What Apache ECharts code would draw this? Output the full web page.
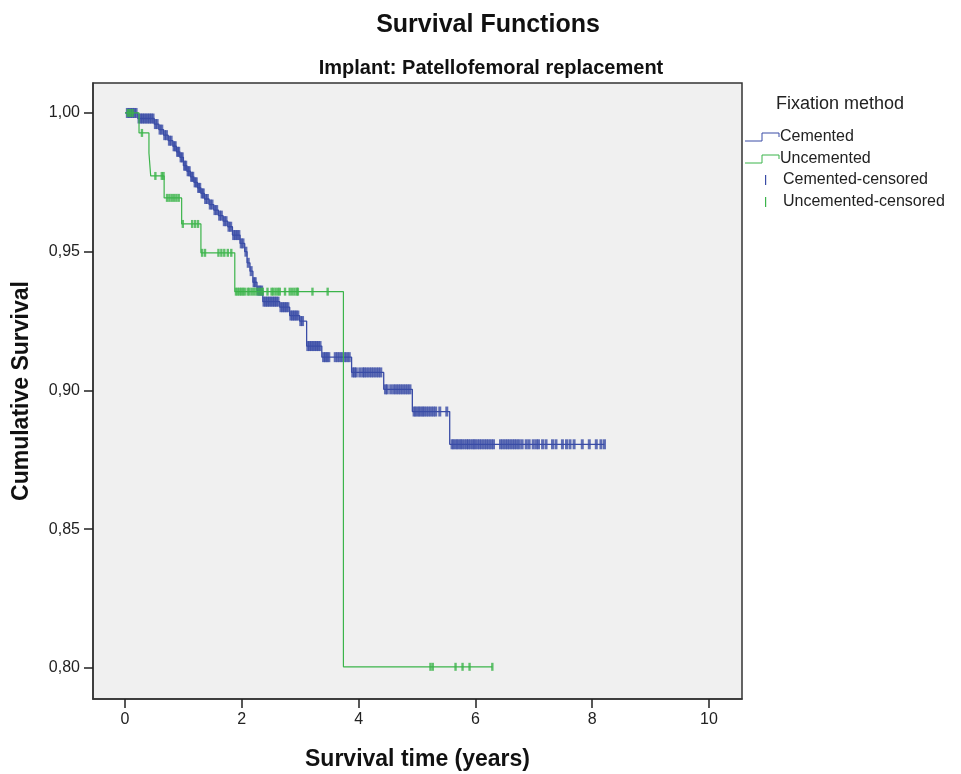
<!DOCTYPE html>
<html>
<head>
<meta charset="utf-8">
<title>Survival Functions</title>
<script src="https://cdn.jsdelivr.net/npm/echarts@6/dist/echarts.min.js"></script>
<style>
  html, body { margin: 0; padding: 0; background: #fff; }
  #chart { width: 961px; height: 774px; }
</style>
</head>
<body>
<div id="chart"></div>
<script>
// Kaplan-Meier steps (time in years, cumulative survival)
const cementedTimes = [0, 0.22, 0.50, 0.58, 0.66, 0.74, 0.82, 0.88, 0.94, 1.00, 1.06, 1.12, 1.18, 1.24, 1.30, 1.36,
  1.44, 1.52, 1.60, 1.68, 1.76, 1.84, 1.97, 2.05, 2.09, 2.14, 2.19, 2.26, 2.36, 2.65, 2.82, 2.99, 3.11, 3.37,
  3.88, 4.43, 4.92, 5.56, 8.21];
const cementedSurv = [1.000, 0.998, 0.996, 0.994, 0.992, 0.990, 0.988, 0.986, 0.984, 0.981, 0.979, 0.977, 0.975,
  0.973, 0.971, 0.969, 0.967, 0.965, 0.963, 0.961, 0.959, 0.956, 0.953, 0.950, 0.946, 0.943, 0.939, 0.936, 0.932,
  0.930, 0.927, 0.925, 0.916, 0.912, 0.9065, 0.9004, 0.8924, 0.8806, 0.8806];
const cementedCensored = [0.04, 0.07, 0.10, 0.13, 0.16, 0.19, 0.24, 0.27, 0.30, 0.33, 0.36, 0.39, 0.42, 0.45, 0.48,
  0.52, 0.55, 0.60, 0.63, 0.68, 0.71, 0.76, 0.79, 0.84, 0.86, 0.90, 0.92, 0.96, 0.98, 1.02, 1.04, 1.08, 1.10, 1.14,
  1.16, 1.20, 1.22, 1.26, 1.28, 1.32, 1.34, 1.38, 1.41, 1.46, 1.49, 1.54, 1.57, 1.62, 1.65, 1.70, 1.73, 1.78, 1.81,
  1.86, 1.89, 1.92, 1.95, 1.99, 2.02, 2.07, 2.11, 2.16, 2.21, 2.23, 2.28, 2.31, 2.34, 2.38, 2.41, 2.44, 2.47, 2.50,
  2.53, 2.56, 2.59, 2.62, 2.67, 2.70, 2.73, 2.76, 2.79, 2.84, 2.87, 2.90, 2.93, 2.96, 3.01, 3.04, 3.13, 3.16, 3.19,
  3.22, 3.25, 3.28, 3.31, 3.34, 3.40, 3.43, 3.46, 3.49, 3.60, 3.64, 3.68, 3.72, 3.76, 3.80, 3.84, 3.90, 3.93, 3.96,
  4.02, 4.07, 4.10, 4.14, 4.18, 4.22, 4.26, 4.30, 4.34, 4.38, 4.46, 4.49, 4.55, 4.60, 4.64, 4.68, 4.72, 4.76, 4.80,
  4.84, 4.88, 4.95, 4.98, 5.02, 5.05, 5.09, 5.12, 5.16, 5.20, 5.24, 5.28, 5.32, 5.39, 5.51, 5.60, 5.63, 5.67, 5.70,
  5.74, 5.77, 5.81, 5.85, 5.88, 5.92, 5.96, 5.99, 6.03, 6.07, 6.11, 6.15, 6.19, 6.23, 6.27, 6.31, 6.43, 6.47, 6.51,
  6.55, 6.59, 6.63, 6.67, 6.71, 6.75, 6.80, 6.87, 6.92, 6.99, 7.04, 7.08, 7.15, 7.21, 7.32, 7.38, 7.49, 7.56, 7.62,
  7.69, 7.83, 7.95, 8.07, 8.15, 8.21];

const uncementedTimes = [0, 0.24, 0.41, 0.44, 0.67, 0.97, 1.30, 1.88, 3.74, 6.29];
const uncementedSurv = [1.000, 0.9928, 0.9856, 0.9773, 0.9694, 0.960, 0.9496, 0.9356, 0.8004, 0.8004];
const uncementedCensored = [0.05, 0.09, 0.13, 0.29, 0.52, 0.63, 0.66, 0.72, 0.76, 0.80, 0.84, 0.88, 0.92, 0.99,
  1.15, 1.20, 1.25, 1.32, 1.37, 1.60, 1.65, 1.70, 1.76, 1.82, 1.90, 1.93, 1.96, 1.99, 2.02, 2.05, 2.10, 2.13, 2.17,
  2.21, 2.25, 2.29, 2.33, 2.36, 2.44, 2.51, 2.54, 2.58, 2.62, 2.65, 2.74, 2.82, 2.86, 2.90, 2.94, 2.96, 3.21, 3.47,
  5.23, 5.27, 5.66, 5.78, 5.90, 6.29];

const xTicks = [0, 2, 4, 6, 8, 10];
const yTicks = [0.80, 0.85, 0.90, 0.95, 1.00];

const BLUE = '#3a4ca6';
const GREEN = '#3bb44a';
const FONT = '"Liberation Sans", Arial, sans-serif';

function steps(times, surv) {
  return times.map((t, i) => [t, surv[i]]);
}

// survival value on the curve at time t (for placing the censor marks)
function survAt(times, surv, t) {
  let s = surv[0];
  for (let i = 0; i < times.length; i++) {
    if (times[i] <= t) s = surv[i];
  }
  return s;
}

function censorMarks(censored, times, surv) {
  return censored.map(t => [t, survAt(times, surv, t)]);
}

const chart = echarts.init(document.getElementById('chart'));

const option = {
  animation: false,
  backgroundColor: '#fff',
  textStyle: { fontFamily: FONT },
  grid: {
    left: 93, top: 83, right: 219, bottom: 75,
    outerBoundsMode: 'none',
    containLabel: false,
    show: true,
    backgroundColor: '#f0f0f0',
    borderColor: '#333',
    borderWidth: 1.5
  },
  xAxis: {
    type: 'value',
    min: -0.548,
    max: 10.565,
    name: 'Survival time (years)',
    nameLocation: 'middle',
    nameGap: 49,
    nameTextStyle: { fontFamily: FONT, fontSize: 23, fontWeight: 'bold', color: '#111' },
    axisLine: { show: true, onZero: false, lineStyle: { color: '#333', width: 1.5 } },
    axisTick: { show: true, length: 9, customValues: xTicks, lineStyle: { color: '#222', width: 1.5 } },
    axisLabel: { customValues: xTicks, margin: 13, fontFamily: FONT, fontSize: 16, color: '#222' },
    splitLine: { show: false }
  },
  yAxis: {
    type: 'value',
    min: 0.7888,
    max: 1.0108,
    name: 'Cumulative Survival',
    nameLocation: 'middle',
    nameGap: 60,
    nameTextStyle: { fontFamily: FONT, fontSize: 23, fontWeight: 'bold', color: '#111' },
    axisLine: { show: true, onZero: false, lineStyle: { color: '#333', width: 1.5 } },
    axisTick: { show: true, length: 9, customValues: yTicks, lineStyle: { color: '#222', width: 1.5 } },
    axisLabel: {
      customValues: yTicks, margin: 13, fontFamily: FONT, fontSize: 16, color: '#222',
      formatter: v => v.toFixed(2).replace('.', ',')
    },
    splitLine: { show: false }
  },
  series: [
    {
      name: 'Cemented',
      type: 'line',
      step: 'end',
      data: steps(cementedTimes, cementedSurv),
      showSymbol: false,
      lineStyle: { color: BLUE, width: 1.3 },
      z: 2
    },
    {
      name: 'Cemented-censored',
      type: 'scatter',
      data: censorMarks(cementedCensored, cementedTimes, cementedSurv),
      symbol: 'rect',
      symbolSize: [3, 10],
      itemStyle: { color: BLUE },
      z: 3
    },
    {
      name: 'Uncemented',
      type: 'line',
      step: 'end',
      data: steps(uncementedTimes, uncementedSurv),
      showSymbol: false,
      lineStyle: { color: GREEN, width: 1.2 },
      z: 4
    },
    {
      name: 'Uncemented-censored',
      type: 'scatter',
      data: censorMarks(uncementedCensored, uncementedTimes, uncementedSurv),
      symbol: 'rect',
      symbolSize: [2.4, 8],
      itemStyle: { color: GREEN },
      z: 5
    }
  ],
  graphic: [
    { type: 'text', x: 488, y: 25, style: { text: 'Survival Functions', font: 'bold 25px ' + FONT, fill: '#111', align: 'center', verticalAlign: 'middle' } },
    { type: 'text', x: 491, y: 68, style: { text: 'Implant: Patellofemoral replacement', font: 'bold 20px ' + FONT, fill: '#111', align: 'center', verticalAlign: 'middle' } },
    { type: 'text', x: 776, y: 104, style: { text: 'Fixation method', font: '18px ' + FONT, fill: '#222', align: 'left', verticalAlign: 'middle' } },
    { type: 'polyline', shape: { points: [[745, 141], [762, 141], [762, 133], [779, 133], [779, 137]] }, style: { stroke: BLUE, lineWidth: 1, fill: null } },
    { type: 'text', x: 780, y: 137, style: { text: 'Cemented', font: '16px ' + FONT, fill: '#222', align: 'left', verticalAlign: 'middle' } },
    { type: 'polyline', shape: { points: [[745, 163], [762, 163], [762, 155], [779, 155], [779, 159]] }, style: { stroke: GREEN, lineWidth: 1, fill: null } },
    { type: 'text', x: 780, y: 159, style: { text: 'Uncemented', font: '16px ' + FONT, fill: '#222', align: 'left', verticalAlign: 'middle' } },
    { type: 'rect', shape: { x: 765, y: 175, width: 1.2, height: 10 }, style: { fill: BLUE } },
    { type: 'text', x: 783, y: 180, style: { text: 'Cemented-censored', font: '16px ' + FONT, fill: '#222', align: 'left', verticalAlign: 'middle' } },
    { type: 'rect', shape: { x: 765, y: 197, width: 1.2, height: 10 }, style: { fill: GREEN } },
    { type: 'text', x: 783, y: 202, style: { text: 'Uncemented-censored', font: '16px ' + FONT, fill: '#222', align: 'left', verticalAlign: 'middle' } }
  ]
};

chart.setOption(option);
</script>
</body>
</html>
